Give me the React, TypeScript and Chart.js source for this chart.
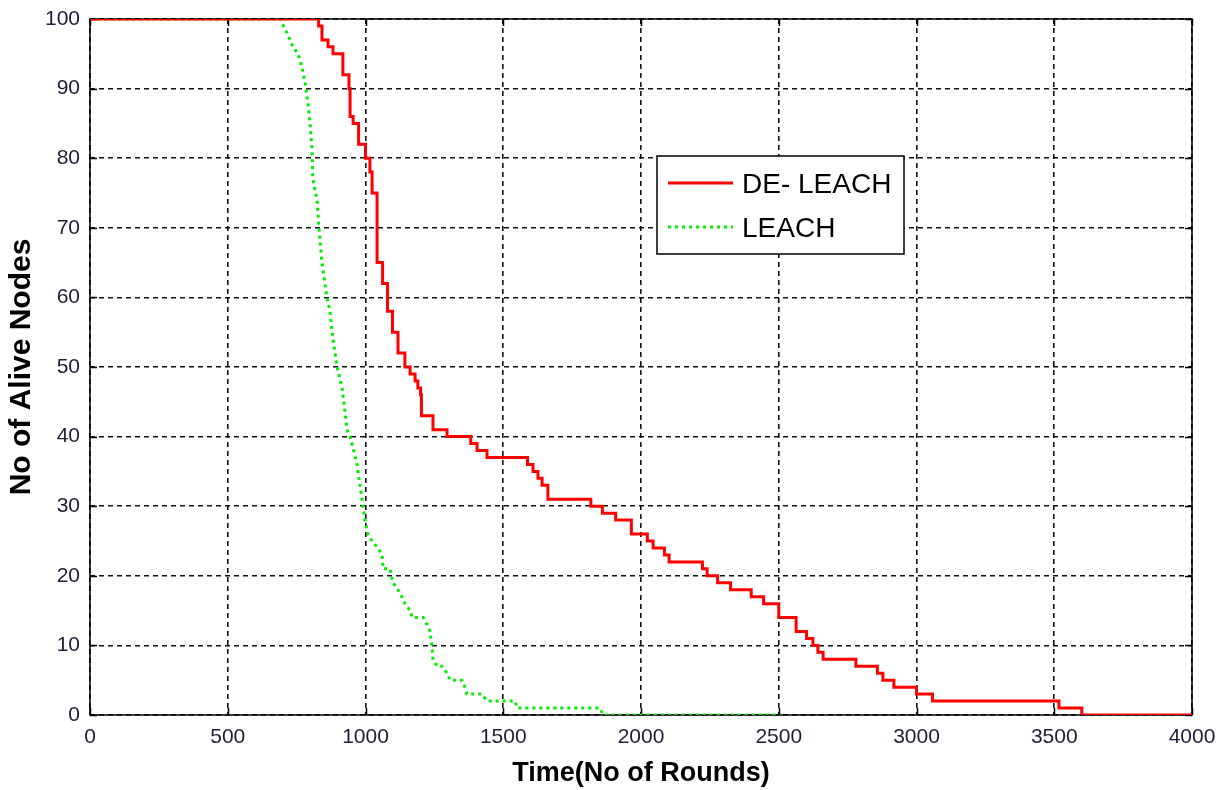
import React, { useEffect, useRef } from "react";
import { Chart, registerables } from "chart.js";

Chart.register(...registerables);

// DE-LEACH: (round at which the count changes, alive nodes from that round on)
const deLeachRounds = [0, 830, 842, 864, 882, 918, 940, 944, 955, 975, 1000, 1016, 1024, 1042, 1062, 1080, 1098, 1118, 1143, 1162, 1180, 1190, 1200, 1203, 1245, 1296, 1382, 1405, 1441, 1588, 1608, 1626, 1641, 1662, 1818, 1860, 1908, 1965, 2023, 2044, 2085, 2102, 2223, 2240, 2278, 2325, 2400, 2445, 2500, 2563, 2601, 2624, 2642, 2661, 2780, 2858, 2878, 2918, 3000, 3058, 3517, 3600, 4000];
const deLeachAlive = [100, 99, 97, 96, 95, 92, 90, 86, 85, 82, 80, 78, 75, 65, 62, 58, 55, 52, 50, 49, 48, 47, 46, 43, 41, 40, 39, 38, 37, 36, 35, 34, 33, 31, 30, 29, 28, 26, 25, 24, 23, 22, 21, 20, 19, 18, 17, 16, 14, 12, 11, 10, 9, 8, 7, 6, 5, 4, 3, 2, 1, 0, 0];

// LEACH
const leachRounds = [0, 690, 715, 737, 755, 770, 780, 791, 799, 806, 809, 824, 831, 842, 860, 871, 882, 897, 915, 933, 944, 957, 969, 980, 991, 998, 1009, 1024, 1045, 1060, 1064, 1089, 1100, 1118, 1132, 1143, 1162, 1169, 1209, 1223, 1234, 1241, 1245, 1260, 1278, 1296, 1307, 1350, 1361, 1368, 1423, 1441, 1543, 1550, 1851, 1862, 2500];
const leachAlive = [100, 100, 98, 96, 95, 93, 91, 88, 85, 81, 77, 74, 70, 65, 60, 58, 54, 50, 47, 41, 40, 38, 36, 33, 30, 28, 26, 25, 24, 23, 21, 21, 19, 18, 17, 16, 15, 14, 14, 13, 12, 10, 8, 7, 7, 6, 5, 5, 4, 3, 3, 2, 2, 1, 1, 0, 0];

const xTicks = [0, 500, 1000, 1500, 2000, 2500, 3000, 3500, 4000];
const yTicks = [0, 10, 20, 30, 40, 50, 60, 70, 80, 90, 100];
const seriesNames = ["DE- LEACH", "LEACH"];
const xTitle = "Time(No of Rounds)";
const yTitle = "No of Alive Nodes";

const RED = "#ff0000";
const GREEN = "#00ee00";
const ARIAL = "'Liberation Sans', Arial, sans-serif";

const framePlugin = {
  id: "matlabFrame",
  beforeDatasetsDraw(chart: any) {
    const { ctx, chartArea: a, scales } = chart;
    ctx.save();
    ctx.strokeStyle = "#000";
    ctx.lineWidth = 1.5;
    ctx.setLineDash([]);
    ctx.strokeRect(a.left, a.top, a.right - a.left, a.bottom - a.top);
    const tl = 7;
    ctx.beginPath();
    xTicks.forEach((v) => {
      const x = Math.round(scales.x.getPixelForValue(v)) + 0.5;
      ctx.moveTo(x, a.bottom);
      ctx.lineTo(x, a.bottom - tl);
      ctx.moveTo(x, a.top);
      ctx.lineTo(x, a.top + tl);
    });
    yTicks.forEach((v) => {
      const y = Math.round(scales.y.getPixelForValue(v)) + 0.5;
      ctx.moveTo(a.left, y);
      ctx.lineTo(a.left + tl, y);
      ctx.moveTo(a.right, y);
      ctx.lineTo(a.right - tl, y);
    });
    ctx.stroke();
    ctx.restore();
  },
};

const legendPlugin = {
  id: "insideLegend",
  afterDatasetsDraw(chart: any) {
    const { ctx, chartArea: a } = chart;
    const left = a.left + 567;
    const top = a.top + 137;
    const w = 247;
    const h = 98;
    ctx.save();
    ctx.fillStyle = "#fff";
    ctx.fillRect(left, top, w, h);
    ctx.strokeStyle = "#000";
    ctx.lineWidth = 1.5;
    ctx.setLineDash([]);
    ctx.strokeRect(left, top, w, h);
    const rows = [
      { y: top + 27, color: RED, dash: [] as number[] },
      { y: top + 71, color: GREEN, dash: [3, 4] },
    ];
    ctx.font = "28px " + ARIAL;
    ctx.textBaseline = "middle";
    ctx.textAlign = "left";
    rows.forEach((r, i) => {
      ctx.beginPath();
      ctx.strokeStyle = r.color;
      ctx.lineWidth = 3;
      ctx.setLineDash(r.dash);
      ctx.moveTo(left + 11, r.y);
      ctx.lineTo(left + 76, r.y);
      ctx.stroke();
      ctx.setLineDash([]);
      ctx.fillStyle = "#000";
      ctx.fillText(seriesNames[i], left + 85, r.y + 2);
    });
    ctx.restore();
  },
};

export default function App() {
  const canvasRef = useRef<HTMLCanvasElement | null>(null);

  useEffect(() => {
    document.body.style.margin = "0";
    const canvas = canvasRef.current;
    if (!canvas) return;
    const tickFont = { family: ARIAL, size: 21 };
    const chart = new Chart(canvas, {
      type: "line",
      data: {
        datasets: [
          {
            label: seriesNames[0],
            data: deLeachRounds.map((r, i) => ({ x: r, y: deLeachAlive[i] })),
            borderColor: RED,
            backgroundColor: RED,
            borderWidth: 3,
            pointRadius: 0,
            stepped: true,
            fill: false,
          },
          {
            label: seriesNames[1],
            data: leachRounds.map((r, i) => ({ x: r, y: leachAlive[i] })),
            borderColor: GREEN,
            backgroundColor: GREEN,
            borderWidth: 3,
            borderDash: [3, 4],
            borderCapStyle: "butt",
            pointRadius: 0,
            fill: false,
          },
        ],
      },
      options: {
        animation: false,
        responsive: false,
        maintainAspectRatio: false,
        layout: { padding: { left: 0, right: 34, top: 19, bottom: 0 } },
        plugins: { legend: { display: false }, tooltip: { enabled: false } },
        scales: {
          x: {
            type: "linear",
            min: 0,
            max: 4000,
            afterBuildTicks: (s: any) => {
              s.ticks = xTicks.map((v) => ({ value: v }));
            },
            afterFit: (s: any) => {
              s.height = 75;
              s.paddingLeft = 0;
              s.paddingRight = 0;
            },
            ticks: {
              autoSkip: false,
              maxRotation: 0,
              padding: 10,
              color: "#1e1e38",
              font: tickFont,
              callback: (v: any) => String(v),
            },
            grid: { color: "#111", lineWidth: 1.6, drawTicks: false },
            border: { display: false, dash: [5, 4] },
            title: {
              display: true,
              text: xTitle,
              color: "#000",
              font: { family: ARIAL, size: 27, weight: "bold", lineHeight: 1.2 },
              padding: { top: 0, bottom: 0 },
            },
          },
          y: {
            type: "linear",
            min: 0,
            max: 100,
            afterBuildTicks: (s: any) => {
              s.ticks = yTicks.map((v) => ({ value: v }));
            },
            afterFit: (s: any) => {
              s.width = 90;
              s.paddingTop = 0;
              s.paddingBottom = 0;
            },
            ticks: {
              autoSkip: false,
              padding: 10,
              color: "#1e1e38",
              font: tickFont,
              callback: (v: any) => String(v),
            },
            grid: { color: "#111", lineWidth: 1.6, drawTicks: false },
            border: { display: false, dash: [5, 4] },
            title: {
              display: true,
              text: yTitle,
              color: "#000",
              font: { family: ARIAL, size: 30, weight: "bold", lineHeight: 1.2 },
              padding: { top: 4, bottom: 0 },
            },
          },
        },
      },
      plugins: [framePlugin, legendPlugin],
    });
    return () => chart.destroy();
  }, []);

  return (
    <div style={{ width: 1226, height: 790 }}>
      <canvas ref={canvasRef} width={1226} height={790} style={{ display: "block" }} />
    </div>
  );
}
